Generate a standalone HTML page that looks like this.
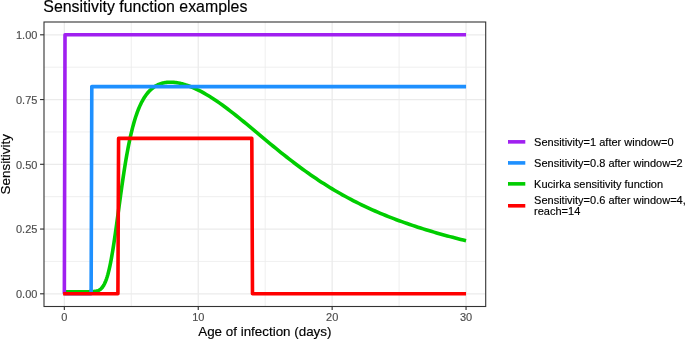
<!DOCTYPE html>
<html><head><meta charset="utf-8"><style>
html,body{margin:0;padding:0;background:#fff;}
body{width:685px;height:339px;overflow:hidden;}
svg{display:block;will-change:transform;font-family:"Liberation Sans",sans-serif;}
</style></head><body>
<svg width="685" height="339" viewBox="0 0 685 339">
<rect width="685" height="339" fill="#fff"/>
<line x1="131.30" y1="22.0" x2="131.30" y2="306.5" stroke="#EBEBEB" stroke-width="0.8"/>
<line x1="265.20" y1="22.0" x2="265.20" y2="306.5" stroke="#EBEBEB" stroke-width="0.8"/>
<line x1="399.10" y1="22.0" x2="399.10" y2="306.5" stroke="#EBEBEB" stroke-width="0.8"/>
<line x1="44.0" y1="261.43" x2="485.7" y2="261.43" stroke="#EBEBEB" stroke-width="0.8"/>
<line x1="44.0" y1="196.68" x2="485.7" y2="196.68" stroke="#EBEBEB" stroke-width="0.8"/>
<line x1="44.0" y1="131.93" x2="485.7" y2="131.93" stroke="#EBEBEB" stroke-width="0.8"/>
<line x1="44.0" y1="67.18" x2="485.7" y2="67.18" stroke="#EBEBEB" stroke-width="0.8"/>
<line x1="64.35" y1="22.0" x2="64.35" y2="306.5" stroke="#EBEBEB" stroke-width="1.3"/>
<line x1="198.25" y1="22.0" x2="198.25" y2="306.5" stroke="#EBEBEB" stroke-width="1.3"/>
<line x1="332.15" y1="22.0" x2="332.15" y2="306.5" stroke="#EBEBEB" stroke-width="1.3"/>
<line x1="466.05" y1="22.0" x2="466.05" y2="306.5" stroke="#EBEBEB" stroke-width="1.3"/>
<line x1="44.0" y1="293.80" x2="485.7" y2="293.80" stroke="#EBEBEB" stroke-width="1.3"/>
<line x1="44.0" y1="229.05" x2="485.7" y2="229.05" stroke="#EBEBEB" stroke-width="1.3"/>
<line x1="44.0" y1="164.30" x2="485.7" y2="164.30" stroke="#EBEBEB" stroke-width="1.3"/>
<line x1="44.0" y1="99.55" x2="485.7" y2="99.55" stroke="#EBEBEB" stroke-width="1.3"/>
<line x1="44.0" y1="34.80" x2="485.7" y2="34.80" stroke="#EBEBEB" stroke-width="1.3"/>
<path d="M64.35 291.70 L84.44 291.70 L85.77 291.70 L86.42 291.70 L87.07 291.69 L87.71 291.69 L88.36 291.69 L89.01 291.68 L89.65 291.67 L90.30 291.66 L90.95 291.65 L91.59 291.63 L92.24 291.61 L92.88 291.57 L93.53 291.53 L94.18 291.47 L94.82 291.39 L95.47 291.30 L96.12 291.18 L96.76 291.03 L97.41 290.84 L98.06 290.61 L98.70 290.33 L99.35 289.99 L100.00 289.57 L100.64 289.08 L101.29 288.50 L101.93 287.81 L102.58 287.01 L103.23 286.07 L103.87 285.00 L104.52 283.76 L105.19 282.31 L105.86 280.66 L106.53 278.80 L107.20 276.73 L107.87 274.43 L108.54 271.89 L109.21 269.12 L109.88 266.10 L110.55 262.85 L111.22 259.36 L111.88 255.65 L112.55 251.73 L113.22 247.61 L113.89 243.30 L114.56 238.84 L115.23 234.24 L115.90 229.52 L116.57 224.71 L117.24 219.84 L117.91 214.92 L118.58 209.98 L119.25 205.05 L119.92 200.14 L120.59 195.28 L121.26 190.48 L121.93 185.76 L122.60 181.13 L123.27 176.62 L123.94 172.22 L124.60 167.94 L125.27 163.80 L125.94 159.79 L126.61 155.92 L127.28 152.20 L127.95 148.62 L128.62 145.18 L129.29 141.88 L129.96 138.72 L130.63 135.70 L131.30 132.81 L131.97 130.06 L132.64 127.43 L133.31 124.92 L133.98 122.53 L134.65 120.25 L135.32 118.09 L135.99 116.03 L136.66 114.07 L137.33 112.20 L138.00 110.43 L138.66 108.75 L139.33 107.15 L140.00 105.63 L140.67 104.19 L141.34 102.82 L142.01 101.52 L142.68 100.29 L143.35 99.12 L144.02 98.01 L144.69 96.96 L145.36 95.96 L146.03 95.02 L146.70 94.13 L147.37 93.28 L148.04 92.48 L148.71 91.72 L149.38 91.00 L150.05 90.33 L150.72 89.69 L151.38 89.08 L152.05 88.51 L152.72 87.98 L153.39 87.47 L154.06 87.00 L154.73 86.55 L155.40 86.13 L156.07 85.74 L156.74 85.38 L157.41 85.03 L158.08 84.72 L158.75 84.42 L159.42 84.15 L160.09 83.89 L160.76 83.66 L161.43 83.45 L162.10 83.26 L162.77 83.08 L163.44 82.92 L164.11 82.78 L164.78 82.65 L165.44 82.55 L166.11 82.45 L166.78 82.37 L167.45 82.31 L168.12 82.26 L168.79 82.22 L169.46 82.20 L170.13 82.18 L170.80 82.19 L171.47 82.20 L172.14 82.22 L172.81 82.26 L173.48 82.31 L174.15 82.37 L174.82 82.43 L175.49 82.51 L176.16 82.60 L176.83 82.70 L177.50 82.81 L178.16 82.93 L178.83 83.06 L179.50 83.19 L180.17 83.34 L180.84 83.49 L181.51 83.66 L182.18 83.83 L182.85 84.00 L183.52 84.19 L184.19 84.39 L184.86 84.59 L187.54 85.47 L190.22 86.47 L192.89 87.57 L195.57 88.77 L198.25 90.06 L200.93 91.44 L203.61 92.90 L206.28 94.44 L208.96 96.05 L211.64 97.73 L214.32 99.47 L217.00 101.28 L219.67 103.14 L222.35 105.05 L225.03 107.01 L227.71 109.01 L230.39 111.06 L233.06 113.13 L235.74 115.25 L238.42 117.39 L241.10 119.55 L243.78 121.74 L246.45 123.94 L249.13 126.16 L251.81 128.39 L254.49 130.63 L257.17 132.87 L259.84 135.11 L262.52 137.35 L265.20 139.59 L267.88 141.82 L270.56 144.04 L273.23 146.24 L275.91 148.44 L278.59 150.62 L281.27 152.78 L283.95 154.92 L286.62 157.03 L289.30 159.13 L291.98 161.20 L294.66 163.25 L297.34 165.27 L300.01 167.26 L302.69 169.23 L305.37 171.16 L308.05 173.07 L310.73 174.94 L313.40 176.79 L316.08 178.60 L318.76 180.39 L321.44 182.14 L324.12 183.86 L326.79 185.56 L329.47 187.22 L332.15 188.85 L334.83 190.44 L337.51 192.01 L340.18 193.55 L342.86 195.06 L345.54 196.54 L348.22 197.99 L350.90 199.41 L353.57 200.80 L356.25 202.17 L358.93 203.51 L361.61 204.82 L364.29 206.11 L366.96 207.37 L369.64 208.60 L372.32 209.81 L375.00 211.00 L377.68 212.16 L380.35 213.31 L383.03 214.42 L385.71 215.52 L388.39 216.60 L391.07 217.65 L393.74 218.69 L396.42 219.70 L399.10 220.70 L401.78 221.67 L404.46 222.63 L407.13 223.57 L409.81 224.50 L412.49 225.41 L415.17 226.30 L417.85 227.17 L420.52 228.04 L423.20 228.88 L425.88 229.71 L428.56 230.53 L431.24 231.34 L433.91 232.13 L436.59 232.91 L439.27 233.67 L441.95 234.43 L444.63 235.17 L447.30 235.90 L449.98 236.62 L452.66 237.33 L455.34 238.03 L458.02 238.72 L460.69 239.40 L463.37 240.07 L466.05 240.73" fill="none" stroke="#00CD00" stroke-width="3.6" stroke-linejoin="round"/>
<path d="M64.35 293.80 L65.02 34.80 L466.05 34.80" fill="none" stroke="#A020F0" stroke-width="3.6" stroke-linejoin="round"/>
<path d="M64.35 293.80 L91.13 293.80 L91.80 86.60 L466.05 86.60" fill="none" stroke="#1E90FF" stroke-width="3.6" stroke-linejoin="round"/>
<path d="M63.1 293.80 L117.91 293.80 L118.58 138.40 L251.81 138.40 L252.48 293.80 L466.05 293.80" fill="none" stroke="#FF0000" stroke-width="3.6" stroke-linejoin="round"/>
<rect x="44.0" y="22.0" width="441.70" height="284.50" fill="none" stroke="#333333" stroke-width="1.1"/>
<line x1="64.35" y1="306.5" x2="64.35" y2="309.90" stroke="#333333" stroke-width="1.15"/>
<line x1="198.25" y1="306.5" x2="198.25" y2="309.90" stroke="#333333" stroke-width="1.15"/>
<line x1="332.15" y1="306.5" x2="332.15" y2="309.90" stroke="#333333" stroke-width="1.15"/>
<line x1="466.05" y1="306.5" x2="466.05" y2="309.90" stroke="#333333" stroke-width="1.15"/>
<line x1="40.05" y1="293.80" x2="44.0" y2="293.80" stroke="#333333" stroke-width="1.15"/>
<line x1="40.05" y1="229.05" x2="44.0" y2="229.05" stroke="#333333" stroke-width="1.15"/>
<line x1="40.05" y1="164.30" x2="44.0" y2="164.30" stroke="#333333" stroke-width="1.15"/>
<line x1="40.05" y1="99.55" x2="44.0" y2="99.55" stroke="#333333" stroke-width="1.15"/>
<line x1="40.05" y1="34.80" x2="44.0" y2="34.80" stroke="#333333" stroke-width="1.15"/>
<text x="64.35" y="320.7" font-size="11" fill="#4D4D4D" stroke="#4D4D4D" stroke-width="0.15" text-anchor="middle">0</text>
<text x="198.25" y="320.7" font-size="11" fill="#4D4D4D" stroke="#4D4D4D" stroke-width="0.15" text-anchor="middle">10</text>
<text x="332.15" y="320.7" font-size="11" fill="#4D4D4D" stroke="#4D4D4D" stroke-width="0.15" text-anchor="middle">20</text>
<text x="466.05" y="320.7" font-size="11" fill="#4D4D4D" stroke="#4D4D4D" stroke-width="0.15" text-anchor="middle">30</text>
<text x="37.4" y="298.20" font-size="11" fill="#4D4D4D" stroke="#4D4D4D" stroke-width="0.15" text-anchor="end">0.00</text>
<text x="37.4" y="233.45" font-size="11" fill="#4D4D4D" stroke="#4D4D4D" stroke-width="0.15" text-anchor="end">0.25</text>
<text x="37.4" y="168.70" font-size="11" fill="#4D4D4D" stroke="#4D4D4D" stroke-width="0.15" text-anchor="end">0.50</text>
<text x="37.4" y="103.95" font-size="11" fill="#4D4D4D" stroke="#4D4D4D" stroke-width="0.15" text-anchor="end">0.75</text>
<text x="37.4" y="39.20" font-size="11" fill="#4D4D4D" stroke="#4D4D4D" stroke-width="0.15" text-anchor="end">1.00</text>
<text x="264.85" y="335.6" font-size="13.4" fill="#000" stroke="#000" stroke-width="0.15" text-anchor="middle">Age of infection (days)</text>
<text transform="translate(9.9 164.25) rotate(-90)" x="0" y="0" font-size="13.4" fill="#000" stroke="#000" stroke-width="0.15" text-anchor="middle">Sensitivity</text>
<text x="43.3" y="11.6" font-size="15.9" fill="#000" stroke="#000" stroke-width="0.15">Sensitivity function examples</text>
<line x1="508.0" y1="141.85" x2="525.3" y2="141.85" stroke="#A020F0" stroke-width="3.6"/>
<text x="534.1" y="145.90" font-size="11" fill="#000" stroke="#000" stroke-width="0.15">Sensitivity=1 after window=0</text>
<line x1="508.0" y1="162.9" x2="525.3" y2="162.9" stroke="#1E90FF" stroke-width="3.6"/>
<text x="534.1" y="166.90" font-size="11" fill="#000" stroke="#000" stroke-width="0.15">Sensitivity=0.8 after window=2</text>
<line x1="508.0" y1="183.85" x2="525.3" y2="183.85" stroke="#00CD00" stroke-width="3.6"/>
<text x="534.1" y="187.90" font-size="11" fill="#000" stroke="#000" stroke-width="0.15">Kucirka sensitivity function</text>
<line x1="508.0" y1="205.8" x2="525.3" y2="205.8" stroke="#FF0000" stroke-width="3.6"/>
<text x="534.1" y="203.60" font-size="11" fill="#000" stroke="#000" stroke-width="0.15">Sensitivity=0.6 after window=4,</text>
<text x="534.1" y="214.50" font-size="11" fill="#000" stroke="#000" stroke-width="0.15">reach=14</text>
</svg>
</body></html>
